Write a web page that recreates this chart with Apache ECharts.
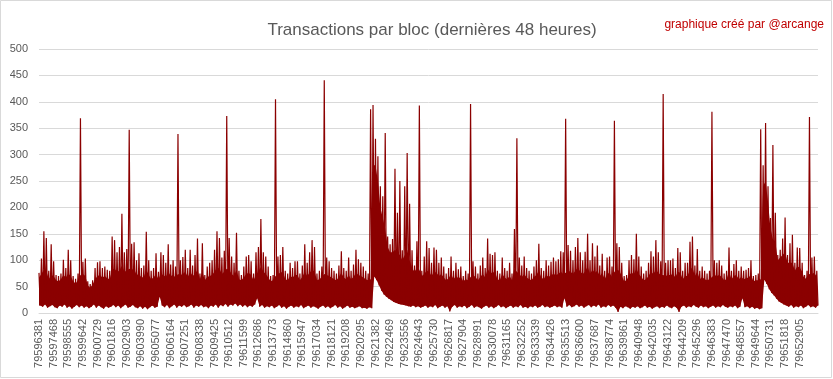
<!DOCTYPE html>
<html>
<head>
<meta charset="utf-8">
<script src="https://cdn.jsdelivr.net/npm/echarts@6/dist/echarts.min.js"></script>
<style>html,body{margin:0;padding:0;background:#fff}#c{width:833px;height:379px}</style>
</head>
<body>
<div id="c"></div>
<script>
// Tick labels shown on the x axis (block numbers), one every 6 segments
const tickLabels = ["79596381","79597468","79598555","79599642","79600729","79601816","79602903","79603990","79605077","79606164","79607251","79608338","79609425","79610512","79611599","79612686","79613773","79614860","79615947","79617034","79618121","79619208","79620295","79621382","79622469","79623556","79624643","79625730","79626817","79627904","79628991","79630078","79631165","79632252","79633339","79634426","79635513","79636600","79637687","79638774","79639861","79640948","79642035","79643122","79644209","79645296","79646383","79647470","79648557","79649644","79650731","79651818","79652905"];
const blockStart = 79596381;
const blocksPerTick = 1087;
const segmentsPerTick = 6;

// Highest transactions-per-block value in each segment (spike tips)
const hi = [76,103,155,142,80,130,98,72,70,75,
101,85,120,100,70,65,75,369,97,103,
60,55,62,85,96,98,85,88,82,80,
145,138,115,125,188,115,121,347,131,134,
100,113,85,90,154,100,80,85,113,78,
115,110,95,130,92,100,88,339,100,106,
120,85,120,90,110,141,75,132,72,88,
95,100,120,155,142,105,118,373,142,107,
95,152,80,72,88,107,110,98,75,115,
125,178,115,107,88,70,72,405,107,110,
125,80,75,95,85,98,98,75,90,130,
95,115,138,125,75,80,88,441,105,98,
85,80,75,90,117,85,80,105,80,92,
120,102,95,88,80,75,386,394,330,297,
240,221,341,145,130,140,273,190,250,119,
240,303,207,119,90,136,393,80,107,136,
123,95,124,120,95,105,88,75,85,107,
80,95,83,88,70,80,75,396,98,88,
75,90,105,85,141,112,110,115,80,75,
105,85,80,95,75,159,331,105,90,107,
85,80,75,88,100,131,85,80,100,90,
97,105,98,102,117,115,368,129,118,100,
125,142,115,100,116,150,100,132,107,128,
90,112,80,105,107,88,364,132,125,95,
70,72,100,110,102,150,107,88,75,80,
95,117,107,138,115,98,415,95,100,100,
103,85,123,115,80,95,95,135,145,90,
121,80,88,80,75,80,381,100,95,100,
90,75,80,124,80,93,100,80,88,80,
82,85,100,70,72,75,348,280,360,240,
180,318,190,110,120,141,181,110,132,148,
95,124,123,95,72,80,371,105,107,80];

// Top of the dense (solid) body of values in each segment
const mid = [67,74,82,80,64,72,70,62,60,64,
72,67,75,70,60,56,62,72,74,70,
52,48,54,64,70,72,67,70,66,64,
82,84,78,80,90,78,80,84,82,84,
72,74,67,68,82,72,64,67,74,64,
74,72,68,78,70,72,67,74,72,74,
78,68,78,70,74,82,64,78,62,68,
70,72,78,86,84,74,78,84,82,74,
70,82,64,62,67,74,76,72,62,72,
78,87,78,74,67,60,62,70,74,76,
78,64,62,70,67,72,72,62,68,78,
70,76,82,78,62,64,68,74,72,70,
67,64,62,68,76,67,64,72,64,68,
76,72,70,67,64,62,64,280,280,250,
200,180,160,125,115,115,120,115,110,100,
110,120,100,85,78,85,82,70,74,80,
78,70,78,76,70,74,67,62,66,74,
64,70,66,68,60,64,62,68,72,68,
62,68,74,67,84,76,76,78,64,62,
74,67,64,70,62,84,78,74,68,74,
67,64,62,68,72,80,67,64,72,68,
72,74,72,74,78,74,76,80,78,74,
80,86,78,74,78,88,74,82,76,80,
70,76,64,74,76,68,78,82,80,70,
60,62,72,76,74,84,74,68,62,64,
70,78,74,82,76,72,72,70,72,72,
74,67,78,76,64,70,70,82,86,70,
78,64,68,64,62,64,68,72,70,72,
68,62,64,78,64,70,72,64,68,64,
66,67,72,60,62,62,64,240,250,210,
160,140,135,100,105,110,115,95,95,95,
80,88,86,78,64,68,74,74,76,68];

// Lowest transactions-per-block value in each segment
const lo = [14,12,16,10,13,15,11,9,14,12,
16,10,13,8,12,15,11,14,10,13,
9,12,16,10,14,11,8,13,10,12,
15,11,14,9,13,16,10,12,15,11,
9,13,8,12,7,11,14,10,12,31,
14,11,15,9,13,16,10,14,12,15,
11,13,16,10,14,12,15,11,13,9,
14,12,16,10,15,13,17,12,16,14,
18,13,16,12,15,11,14,12,16,28,
12,15,10,13,11,14,9,12,15,10,
13,8,12,14,10,13,11,15,9,12,
14,10,13,11,8,12,14,10,13,9,
12,15,10,13,8,11,14,10,12,9,
11,13,9,10,8,11,9,69,62,52,
42,35,31,27,24,21,19,17,16,15,
14,13,12,14,11,13,10,12,14,10,
13,11,15,9,12,14,10,13,3,12,
15,10,13,11,14,9,12,15,10,13,
11,8,12,14,10,13,9,12,15,11,
13,9,12,14,10,13,11,15,10,12,
9,13,11,14,10,12,15,11,13,10,
12,14,11,13,10,28,12,15,11,13,
16,12,14,10,13,15,11,14,12,16,
10,13,11,15,12,14,10,2,12,9,
13,11,8,12,10,13,9,11,14,10,
12,8,11,13,9,12,10,14,11,9,
13,10,2,12,14,10,13,11,15,12,
10,14,11,13,9,12,14,10,13,11,
15,12,10,13,11,14,9,12,28,11,
13,9,12,8,10,7,9,63,55,45,
38,33,27,22,19,16,14,12,15,10,
13,11,14,9,12,15,11,13,10,14];

const yTicks = {min: 0, max: 500, interval: 50};

// Two plotted points per segment: the peak, then the trough
const pointsPerTick = segmentsPerTick * 2;
const zigzag = [], bodyBase = [], bodyBand = [];
for (let i = 0; i < hi.length; i++) {
  zigzag.push(hi[i], lo[i]);
  bodyBase.push(lo[i], lo[i]);
  bodyBand.push(mid[i] - lo[i], mid[i] - lo[i]);
}
const categories = zigzag.map((v, j) =>
  (j % pointsPerTick === 0 && tickLabels[j / pointsPerTick]) ? tickLabels[j / pointsPerTick]
  : String(blockStart + Math.round(j * blocksPerTick / pointsPerTick)));
const RED = '#8b0000';

const chart = echarts.init(document.getElementById('c'), null, {renderer: 'canvas'});
chart.setOption({
  animation: false,
  backgroundColor: '#ffffff',
  grid: {left: 39, right: 15, top: 49, bottom: 66},
  xAxis: {
    type: 'category',
    data: categories,
    boundaryGap: false,
    axisLine: {show: true, lineStyle: {color: '#d9d9d9', width: 1}},
    axisTick: {show: false},
    axisLabel: {
      interval: pointsPerTick - 1,
      rotate: 90,
      color: '#595959',
      fontSize: 11,
      fontFamily: 'Liberation Sans',
      margin: 6,
      formatter: (v) => tickLabels.indexOf(v) >= 0 ? v : ''
    },
    splitLine: {show: false}
  },
  yAxis: {
    type: 'value',
    min: yTicks.min, max: yTicks.max, interval: yTicks.interval,
    axisLine: {show: false},
    axisTick: {show: false},
    axisLabel: {color: '#595959', fontSize: 11, fontFamily: 'Liberation Sans', margin: 11},
    splitLine: {show: true, lineStyle: {color: '#d9d9d9', width: 1}}
  },
  series: [{
    name: 'base',
    type: 'line',
    stack: 'body',
    data: bodyBase,
    symbol: 'none',
    sampling: null,
    lineStyle: {opacity: 0, width: 0},
    silent: true
  }, {
    name: 'body',
    type: 'line',
    stack: 'body',
    data: bodyBand,
    symbol: 'none',
    sampling: null,
    lineStyle: {opacity: 0, width: 0},
    areaStyle: {color: RED, opacity: 1},
    silent: true
  }, {
    name: 'Transactions',
    type: 'line',
    data: zigzag,
    symbol: 'none',
    sampling: null,
    lineStyle: {color: RED, width: 1.2},
    itemStyle: {color: RED}
  }],
  graphic: [
    {type: 'rect', silent: true, shape: {x: 0.5, y: 0.5, width: 831, height: 377},
     style: {fill: 'none', stroke: '#d9d9d9', lineWidth: 1}},
    {type: 'text', x: 432, y: 30, silent: true,
     style: {text: 'Transactions par bloc (dernières 48 heures)', fill: '#595959',
             font: '17px "Liberation Sans"', textAlign: 'center', textVerticalAlign: 'middle'}},
    {type: 'text', x: 824, y: 25, silent: true,
     style: {text: 'graphique créé par @arcange', fill: '#c00000',
             font: '12px "Liberation Sans"', textAlign: 'right', textVerticalAlign: 'middle'}}
  ]
});
</script>
</body>
</html>
